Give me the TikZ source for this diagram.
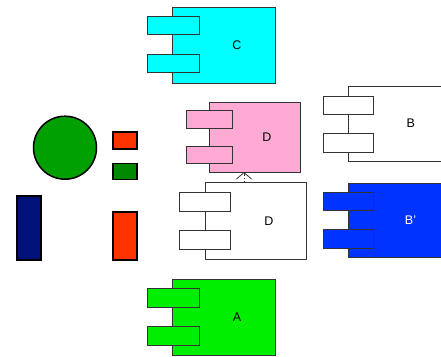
\documentclass[tikz,border=0pt]{standalone}
\usepackage{fontspec}
\setmainfont{Liberation Sans}
\usetikzlibrary{arrows.meta}
\definecolor{cC}{HTML}{00FFFF}
\definecolor{cPink}{HTML}{FFAAD5}
\definecolor{cBlue}{HTML}{0033FF}
\definecolor{cA}{HTML}{00EE00}
\definecolor{cCirc}{HTML}{00A000}
\definecolor{cSmallG}{HTML}{008800}
\definecolor{cNavy}{HTML}{001177}
\definecolor{cRed}{HTML}{FF3300}
\definecolor{cEdge}{HTML}{333333}
\tikzset{
  comp/.style={draw=cEdge, line width=0.9pt, rectangle, inner sep=0pt},
  tab/.style={draw=cEdge, line width=0.9pt, rectangle, inner sep=0pt, minimum width=51.5pt, minimum height=18.7pt},
  shapebox/.style={draw=black, line width=1.5pt, rectangle, inner sep=0pt},
  lab/.style={font=\fontsize{12.5}{14}\selectfont, inner sep=0pt},
}
\begin{document}
\begin{tikzpicture}[x=1pt,y=-1pt]
\useasboundingbox (0,0) rectangle (441,356);
\begin{scope}
\clip (0,0) rectangle (441,356);
% C
\node[comp, fill=cC, minimum width=103pt, minimum height=76pt] (C) at (224.3,45) {};
\node[lab] at (237,45) (Clab) {C};
\node[tab, fill=cC] (Ct1) at (173.2,25.5) {};
\node[tab, fill=cC] (Ct2) at (173.2,63.5) {};
% A
\node[comp, fill=cA, minimum width=103pt, minimum height=76pt] (A) at (224.3,317) {};
\node[lab] at (237,317) (Alab) {A};
\node[tab, fill=cA] (At1) at (173.2,297.8) {};
\node[tab, fill=cA] (At2) at (173.2,336.2) {};
% D pink
\node[comp, fill=cPink, minimum width=91.4pt, minimum height=70pt] (Dp) at (255,137.3) {};
\node[lab] at (267,137.5) (Dplab) {D};
\node[tab, fill=cPink, minimum width=46.7pt, minimum height=17.6pt] (Dpt1) at (209.4,119.5) {};
\node[tab, fill=cPink, minimum width=46.7pt, minimum height=17.6pt] (Dpt2) at (209.4,155) {};
% D white
\node[comp, fill=white, minimum width=101.7pt, minimum height=76.7pt] (Dw) at (255.8,220.6) {};
\node[lab] at (269,221) (Dwlab) {D};
\node[tab, fill=white] (Dwt1) at (204.9,202.2) {};
\node[tab, fill=white] (Dwt2) at (204.9,240) {};
% B
\node[comp, fill=white, minimum width=110pt, minimum height=74.3pt] (B) at (403.3,123.8) {};
\node[lab] at (410.7,123.5) (Blab) {B};
\node[tab, fill=white, minimum width=50.4pt] (Bt1) at (348.5,105.3) {};
\node[tab, fill=white, minimum width=50.4pt] (Bt2) at (348.5,142.6) {};
% B'
\node[comp, fill=cBlue, minimum width=110pt, minimum height=74pt] (Bp) at (403.3,220.3) {};
\node[lab, text=white] at (410.5,220) (Bplab) {B'};
\node[tab, fill=cBlue, minimum width=50.4pt] (Bpt1) at (348.5,201.5) {};
\node[tab, fill=cBlue, minimum width=50.4pt] (Bpt2) at (348.5,238.8) {};
\end{scope}
% dependency arrow (Dw depends on Dp)
\coordinate (arrS) at (244,182.3);
\coordinate (arrE) at (244,172.0);
\coordinate (arrM) at (244,176.0);
\draw[dash pattern=on 1pt off 2pt, line width=0.7pt, cEdge] (arrS) -- (arrE);
\draw[solid, line width=0.8pt, cEdge, -{Straight Barb[length=6.5pt,width=15pt,line width=0.8pt]}] (arrM) -- (arrE);
% left shapes
\node[circle, draw=black, line width=1.5pt, fill=cCirc, minimum size=63pt, inner sep=0pt] (circ) at (65,147.7) {};
\node[shapebox, fill=cRed, minimum width=24pt, minimum height=17pt] (r1) at (125,140.3) {};
\node[shapebox, fill=cSmallG, minimum width=24pt, minimum height=16pt] (g1) at (125,171.7) {};
\node[shapebox, fill=cNavy, minimum width=24pt, minimum height=64pt] (nv) at (28.8,227.8) {};
\node[shapebox, fill=cRed, minimum width=24pt, minimum height=48pt] (r2) at (125,235.8) {};
\end{tikzpicture}
\end{document}
